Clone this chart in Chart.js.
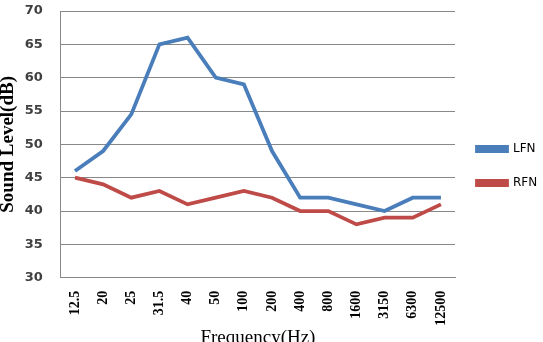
<!DOCTYPE html>
<html>
<head>
<meta charset="utf-8">
<script src="https://cdn.jsdelivr.net/npm/chart.js@4/dist/chart.umd.min.js"></script>
<style>
  html, body { margin: 0; padding: 0; background: #fff; }
  #wrap { width: 543px; height: 342px; }
</style>
</head>
<body>
<div id="wrap"><canvas id="soundChart" width="543" height="342"></canvas></div>
<script>
const frequencies = ['12.5', '20', '25', '31.5', '40', '50', '100', '200', '400', '800', '1600', '3150', '6300', '12500'];
const lfnLevels = [46, 49, 54.5, 65, 66, 60, 59, 49, 42, 42, 41, 40, 42, 42];
const rfnLevels = [45, 44, 42, 43, 41, 42, 43, 42, 40, 40, 38, 39, 39, 41];
const yTicks = [30, 35, 40, 45, 50, 55, 60, 65, 70];

const ctx = document.getElementById('soundChart').getContext('2d');
new Chart(ctx, {
  type: 'line',
  data: {
    labels: frequencies,
    datasets: [
      { label: 'LFN', data: lfnLevels, borderColor: '#4a7ebb', backgroundColor: '#4a7ebb', borderWidth: 3.8, pointRadius: 0, fill: false, tension: 0 },
      { label: 'RFN', data: rfnLevels, borderColor: '#be4b48', backgroundColor: '#be4b48', borderWidth: 3.8, pointRadius: 0, fill: false, tension: 0 }
    ]
  },
  options: {
    responsive: false,
    animation: false,
    layout: { padding: { top: 0, right: 0, bottom: 10, left: 0 } },
    plugins: {
      tooltip: { enabled: false },
      legend: {
        position: 'right',
        maxWidth: 88,
        labels: {
          boxWidth: 30,
          boxHeight: 4,
          padding: 22,
          color: '#000',
          font: { family: 'DejaVu Sans', size: 12 }
        }
      }
    },
    scales: {
      x: {
        offset: true,
        grid: { display: false, drawTicks: false },
        border: { display: true, color: '#888' },
        ticks: {
          minRotation: 90, maxRotation: 90, autoSkip: false, padding: 13,
          color: '#000',
          font: { family: 'Liberation Serif', size: 14, weight: 'bold' }
        },
        // negative paddings pull the title down so it is cut at the edge like the original
        title: {
          display: true, text: 'Frequency(Hz)', color: '#000',
          font: { family: 'Liberation Serif', size: 19 },
          padding: { top: -12.5, bottom: -17 }
        }
      },
      y: {
        min: 30, max: 70,
        afterBuildTicks: axis => { axis.ticks = yTicks.map(v => ({ value: v })); },
        afterFit: axis => { axis.paddingTop = 11; },
        grid: { color: '#888', drawTicks: false },
        border: { display: true, color: '#888' },
        ticks: {
          padding: 18, color: '#404040',
          font: { family: 'DejaVu Sans', size: 13, weight: 'bold' }
        },
        title: {
          display: true, text: 'Sound Level(dB)', color: '#000',
          font: { family: 'Liberation Serif', size: 19, weight: 'bold' },
          padding: { top: -3, bottom: -13 }
        }
      }
    }
  }
});
</script>
</body>
</html>
